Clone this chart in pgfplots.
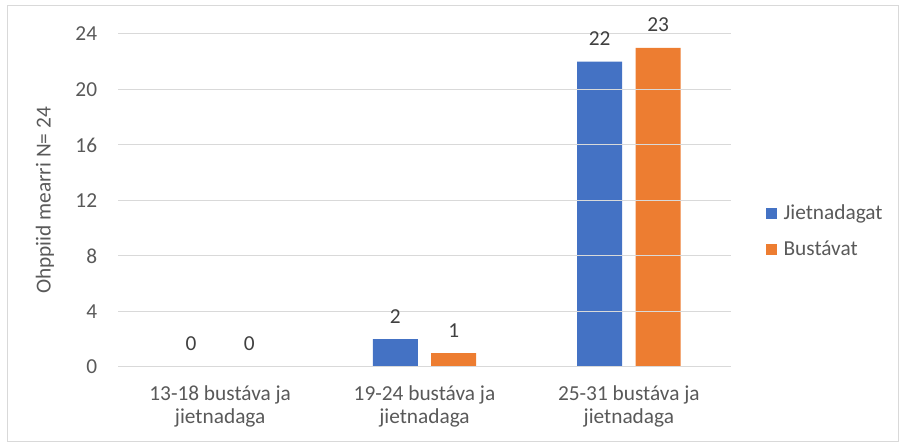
\documentclass[border=0pt]{standalone}
\usepackage{pgfplots}
\pgfplotsset{compat=1.18}
\usepackage{fontspec}
\setmainfont{Carlito}
\definecolor{cblue}{HTML}{4472C4}
\definecolor{corange}{HTML}{ED7D31}
\definecolor{ctext}{HTML}{595959}
\definecolor{clab}{HTML}{404040}
\definecolor{cgrid}{HTML}{D9D9D9}
\newcommand\cf{\fontsize{16}{17.25}\selectfont}
\begin{document}
\begin{tikzpicture}[x=1pt,y=1pt]
\path (0,0) rectangle (679.5,336);
\draw[cgrid, line width=0.75pt] (5.25,4.5) rectangle (673.5,331.5);
\begin{axis}[
  at={(88.5pt,60.75pt)}, anchor=south west,
  scale only axis, width=459.75pt, height=249.75pt,
  xmin=-0.5, xmax=2.5, ymin=0, ymax=24,
  enlarge x limits=false,
  ybar=10.1pt, bar width=33.75pt,
  /pgf/number format/assume math mode=true,
  ytick={0,4,...,24},
  xtick={0,1,2},
  xticklabels={{13-18 bustáva ja\\jietnadaga},{19-24 bustáva ja\\jietnadaga},{25-31 bustáva ja\\jietnadaga}},
  xticklabel style={align=center, font=\cf, text=ctext, anchor=north, yshift=-8.5pt},
  yticklabel style={font=\cf, text=ctext, anchor=east, xshift=-10pt},
  ylabel={Ohppiid mearri N= 24},
  ylabel style={at={(axis description cs:-0.119,0.5)}, anchor=center, font=\cf, text=ctext},
  axis x line=bottom, axis y line=left, axis line style={-},
  y axis line style={draw=none},
  x axis line style={draw=cgrid, line width=0.75pt},
  axis on top,
  ymajorgrids, grid style={cgrid, line width=0.75pt},
  ytick style={draw=none}, xtick style={draw=none},
  extra x ticks={-0.5,0.5,1.5,2.5}, extra x tick labels={},
  extra x tick style={grid=none, tick style={draw=cgrid, line width=0.75pt}, tick align=outside, major tick length=5pt},
  nodes near coords,
  nodes near coords style={font=\cf, text=clab, yshift=8.5pt},
  legend style={at={(1.05,0.408)}, anchor=west, draw=none, fill=none, font=\cf, text=ctext, row sep=10.5pt,
    nodes={inner xsep=5pt}},
  legend cell align=left,
]
\addplot[fill=cblue, draw=none, legend image code/.code={\fill[cblue] (0pt,-4.1pt) rectangle (8.25pt,4.1pt);}] coordinates {(0,0) (1,2) (2,22)};
\addplot[fill=corange, draw=none, legend image code/.code={\fill[corange] (0pt,-4.1pt) rectangle (8.25pt,4.1pt);}] coordinates {(0,0) (1,1) (2,23)};
\legend{Jietnadagat, Bustávat}
\end{axis}
\end{tikzpicture}
\end{document}
